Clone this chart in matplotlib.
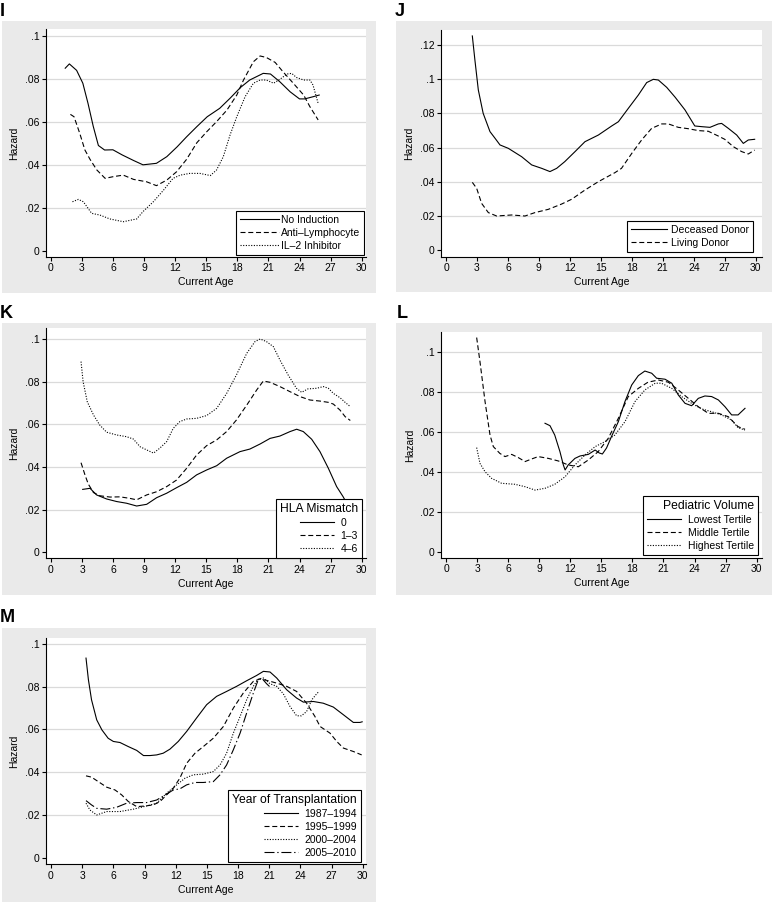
import matplotlib
matplotlib.use('Agg')
import matplotlib.pyplot as plt
from matplotlib.patches import Rectangle

plt.rcParams['font.family'] = ['Liberation Sans', 'DejaVu Sans']

# ------------------------------------------------------------------ data
x_ticks = list(range(0, 31, 3))
y_ticks_01 = [0, 0.02, 0.04, 0.06, 0.08, 0.1]
y_labels_01 = ['0', '.02', '.04', '.06', '.08', '.1']
y_ticks_012 = [0, 0.02, 0.04, 0.06, 0.08, 0.1, 0.12]
y_labels_012 = ['0', '.02', '.04', '.06', '.08', '.1', '.12']

# Panel I : induction
i_labels = ['No Induction', 'Anti\u2013Lymphocyte', 'IL\u20132 Inhibitor']
i_none_age = [1.4, 1.8, 2.5, 3.1, 3.6, 4.1, 4.6, 5.2, 6.0, 6.9, 8.0, 8.9, 10.2, 11.2, 12.2,
              13.1, 14.1, 15.1, 16.3, 17.3, 18.3, 19.2, 20.5, 21.2, 22.1, 23.1, 24.0, 24.5, 25.3, 25.9]
i_none_haz = [0.085, 0.087, 0.084, 0.078, 0.0686, 0.058, 0.049, 0.0469, 0.047, 0.0446, 0.042, 0.040,
              0.0407, 0.0438, 0.0484, 0.053, 0.0578, 0.0624, 0.0663, 0.071, 0.076, 0.0795, 0.0826,
              0.0823, 0.0787, 0.074, 0.0707, 0.0707, 0.0717, 0.0725]
i_anti_age = [1.9, 2.25, 2.8, 3.3, 3.8, 4.45, 5.25, 6.05, 7.0, 8.0, 9.25, 10.2, 11.2, 12.15, 13.1,
              14.1, 15.05, 16.0, 17.0, 17.95, 18.6, 19.55, 20.2, 20.8, 21.65, 22.4, 23.4, 24.4, 25.0, 25.8]
i_anti_haz = [0.0635, 0.0624, 0.0547, 0.0469, 0.0425, 0.0376, 0.0337, 0.0345, 0.0352, 0.0332, 0.0321,
              0.0303, 0.0329, 0.0368, 0.0425, 0.0503, 0.0554, 0.0601, 0.0655, 0.0725, 0.0795, 0.088,
              0.0907, 0.090, 0.0877, 0.0834, 0.078, 0.0725, 0.0671, 0.0609]
i_il2_age = [2.1, 2.67, 3.15, 3.95, 4.75, 5.7, 7.0, 8.3, 8.9, 9.9, 10.9, 11.8, 12.5, 13.4, 14.4, 15.4,
             16.0, 16.65, 17.3, 17.95, 18.75, 19.55, 20.2, 20.8, 21.5, 22.1, 22.8, 23.25, 23.7, 24.4,
             25.0, 25.3, 25.8]
i_il2_haz = [0.0228, 0.0239, 0.0228, 0.0174, 0.0166, 0.0148, 0.0135, 0.0148, 0.0182, 0.0228, 0.0283,
             0.0337, 0.0352, 0.036, 0.036, 0.035, 0.0376, 0.0438, 0.0539, 0.0624, 0.0717, 0.078, 0.0795,
             0.0795, 0.078, 0.0798, 0.0823, 0.0826, 0.0807, 0.0795, 0.0795, 0.0772, 0.0686]

# Panel J : donor type
j_labels = ['Deceased Donor', 'Living Donor']
j_dec_age = [2.55, 2.8, 3.13, 3.6, 4.26, 4.75, 5.23, 6.04, 7.33, 8.3, 9.27, 10.07, 10.72, 11.5, 12.5,
             13.46, 14.76, 16.05, 16.7, 17.66, 18.63, 19.44, 20.08, 20.57, 21.38, 22.2, 23.15, 24.1,
             24.77, 25.57, 26.38, 26.7, 27.35, 28.16, 28.8, 29.28, 29.9]
j_dec_haz = [0.1253, 0.1112, 0.0937, 0.080, 0.0693, 0.0654, 0.0615, 0.0595, 0.0546, 0.0498, 0.0478,
             0.0459, 0.0478, 0.0517, 0.0576, 0.0634, 0.0673, 0.0726, 0.0751, 0.0829, 0.0907, 0.098,
             0.0999, 0.0995, 0.0952, 0.0894, 0.082, 0.0726, 0.0722, 0.0718, 0.0738, 0.0741, 0.0712,
             0.0673, 0.0624, 0.0644, 0.0648]
j_liv_age = [2.55, 2.97, 3.45, 4.1, 4.9, 6.36, 7.65, 8.62, 9.91, 11.2, 12.17, 13.46, 14.76, 16.37, 17.0,
             18.0, 18.95, 19.92, 20.9, 21.54, 22.5, 23.47, 24.44, 25.41, 26.38, 27.0, 27.83, 28.64,
             29.28, 29.9]
j_liv_haz = [0.0396, 0.0361, 0.0273, 0.0219, 0.0199, 0.0205, 0.0199, 0.0219, 0.0238, 0.0269, 0.0297,
             0.0351, 0.040, 0.0453, 0.0478, 0.0566, 0.0644, 0.0712, 0.0738, 0.0738, 0.0718, 0.071,
             0.0699, 0.0695, 0.0667, 0.0648, 0.0605, 0.0576, 0.0562, 0.0585]

# Panel K : HLA mismatch
k_title = 'HLA Mismatch'
k_labels = ['0', '1\u20133', '4\u20136']
k_0_age = [3.06, 3.77, 4.4, 5.37, 6.34, 7.3, 8.27, 9.24, 10.2, 11.17, 12.13, 13.1, 14.06, 15.03, 16.0,
           16.96, 18.25, 19.2, 20.2, 21.15, 22.1, 23.08, 23.72, 24.36, 25.17, 25.97, 26.78, 27.58,
           28.2, 28.9]
k_0_haz = [0.0295, 0.030, 0.0269, 0.025, 0.0238, 0.023, 0.0217, 0.0225, 0.0256, 0.0277, 0.0303,
           0.0328, 0.0363, 0.0386, 0.0406, 0.0441, 0.0472, 0.0484, 0.0508, 0.0534, 0.0545, 0.0566,
           0.0577, 0.0566, 0.053, 0.0472, 0.0394, 0.0308, 0.0261, 0.020]
k_13_age = [2.9, 3.3, 3.6, 4.1, 4.73, 5.7, 6.66, 7.6, 8.27, 9.24, 10.2, 11.17, 12.13, 13.1, 14.06,
            15.03, 16.0, 16.96, 17.9, 18.9, 19.86, 20.5, 21.15, 22.1, 23.08, 24.04, 25.0, 25.97,
            26.78, 27.26, 27.9, 28.4, 28.9]
k_13_haz = [0.042, 0.036, 0.032, 0.028, 0.0265, 0.0259, 0.026, 0.0253, 0.0246, 0.0269, 0.0284,
            0.0308, 0.0339, 0.0394, 0.0456, 0.050, 0.0527, 0.0566, 0.062, 0.069, 0.0761, 0.0803,
            0.0797, 0.0777, 0.0753, 0.073, 0.0714, 0.0709, 0.0703, 0.0695, 0.0667, 0.0636, 0.0618]
k_46_age = [2.9, 3.1, 3.5, 4.1, 4.7, 5.37, 6.34, 7.3, 7.95, 8.6, 9.24, 9.9, 10.5, 11.17, 11.8, 12.45,
            13.1, 14.06, 15.03, 16.0, 16.96, 17.9, 18.9, 19.7, 20.2, 20.8, 21.47, 22.1, 22.9, 23.7,
            24.2, 24.8, 25.65, 26.3, 26.78, 27.26, 27.9, 28.4, 28.9]
k_46_haz = [0.0894, 0.080, 0.0706, 0.0644, 0.0597, 0.0563, 0.055, 0.0542, 0.0531, 0.0495, 0.048,
            0.0465, 0.0488, 0.0519, 0.0581, 0.0613, 0.0625, 0.0628, 0.0641, 0.0675, 0.0745, 0.0831,
            0.0933, 0.0988, 0.100, 0.0988, 0.0964, 0.0902, 0.0831, 0.0769, 0.075, 0.0766, 0.0769,
            0.0777, 0.0769, 0.0745, 0.0725, 0.0703, 0.0683]

# Panel L : pediatric volume
l_title = 'Pediatric Volume'
l_labels = ['Lowest Tertile', 'Middle Tertile', 'Highest Tertile']
l_low_age = [9.56, 10.04, 10.5, 11.0, 11.33, 11.5, 11.8, 12.45, 12.94, 13.74, 14.4, 14.8, 15.1, 15.5,
             16.0, 16.64, 17.28, 17.93, 18.57, 19.2, 19.86, 20.34, 21.15, 21.8, 22.43, 23.08, 23.72,
             24.36, 25.0, 25.65, 26.3, 26.94, 27.58, 28.2, 28.87]
l_low_haz = [0.0644, 0.0632, 0.0585, 0.0502, 0.0435, 0.041, 0.0435, 0.0468, 0.048, 0.0488, 0.051,
             0.0495, 0.049, 0.052, 0.058, 0.0652, 0.0753, 0.0836, 0.0883, 0.0906, 0.0895, 0.087,
             0.0865, 0.0845, 0.0786, 0.0744, 0.0732, 0.0769, 0.0781, 0.0778, 0.0761, 0.0727, 0.0686,
             0.0686, 0.0719]
l_mid_age = [2.96, 3.28, 3.77, 4.25, 4.57, 5.2, 5.7, 6.34, 6.98, 7.63, 8.27, 8.9, 9.88, 10.85, 11.8,
             12.78, 13.74, 14.7, 15.67, 16.64, 17.6, 18.57, 19.5, 20.5, 21.47, 22.43, 23.4, 24.36,
             25.33, 26.3, 27.26, 28.2, 28.87]
l_mid_haz = [0.1074, 0.0953, 0.0753, 0.0585, 0.0527, 0.0493, 0.0477, 0.0488, 0.0472, 0.0452, 0.0465,
             0.0477, 0.0468, 0.0455, 0.0435, 0.0426, 0.046, 0.0502, 0.0569, 0.0669, 0.0778, 0.0819,
             0.085, 0.0861, 0.085, 0.0811, 0.0769, 0.0727, 0.0694, 0.0694, 0.0677, 0.0627, 0.0614]
l_high_age = [2.96, 3.28, 3.77, 4.4, 5.37, 6.66, 7.63, 8.6, 9.56, 10.5, 11.5, 12.45, 13.42, 14.4,
              15.35, 16.3, 17.28, 18.25, 19.2, 20.2, 20.8, 21.8, 22.75, 23.72, 24.7, 25.65, 26.6,
              27.58, 28.2, 28.87]
l_high_haz = [0.0522, 0.0443, 0.0401, 0.0368, 0.0343, 0.0338, 0.0326, 0.0309, 0.0318, 0.0338, 0.0376,
              0.0435, 0.0485, 0.0527, 0.0552, 0.0585, 0.0652, 0.0753, 0.0811, 0.0845, 0.0845, 0.0819,
              0.0778, 0.0744, 0.0716, 0.0702, 0.0686, 0.066, 0.0622, 0.061]

# Panel M : year of transplantation
m_title = 'Year of Transplantation'
m_labels = ['1987\u20131994', '1995\u20131999', '2000\u20132004', '2005\u20132010']
m_87_age = [3.37, 3.6, 3.9, 4.4, 4.9, 5.5, 6.0, 6.64, 7.44, 8.25, 8.9, 9.53, 10.17, 10.8, 11.45,
            12.25, 13.06, 14.0, 14.98, 15.94, 16.9, 17.87, 18.83, 19.8, 20.44, 21.08, 21.72, 22.68,
            23.64, 24.29, 25.25, 26.2, 27.17, 28.14, 29.1, 29.74, 29.95]
m_87_haz = [0.0934, 0.0833, 0.0739, 0.0645, 0.0598, 0.0559, 0.0544, 0.0539, 0.052, 0.0502, 0.0478,
            0.0478, 0.0481, 0.0489, 0.0508, 0.0544, 0.0591, 0.0653, 0.0716, 0.0755, 0.0778, 0.0802,
            0.0828, 0.0853, 0.0872, 0.0869, 0.0841, 0.0786, 0.0747, 0.0728, 0.0731, 0.0723, 0.0705,
            0.0669, 0.0633, 0.0633, 0.0636]
m_95_age = [3.37, 3.9, 4.55, 5.36, 6.16, 6.8, 7.44, 8.25, 9.05, 9.85, 10.5, 11.13, 11.77, 12.4, 13.06,
            13.86, 14.66, 15.62, 16.59, 17.55, 18.5, 19.47, 20.1, 20.75, 21.72, 22.68, 23.64, 24.6,
            25.4, 25.9, 26.85, 27.5, 28.14, 29.1, 29.9]
m_95_haz = [0.0383, 0.0377, 0.0356, 0.033, 0.0317, 0.0294, 0.0263, 0.0239, 0.0242, 0.0247, 0.0263,
            0.0294, 0.0325, 0.0372, 0.0442, 0.0489, 0.052, 0.0559, 0.0614, 0.070, 0.077, 0.0825,
            0.0836, 0.083, 0.0817, 0.0802, 0.0778, 0.0723, 0.0661, 0.0614, 0.0583, 0.0544, 0.0513,
            0.0497, 0.0481]
m_00_age = [3.37, 3.75, 4.4, 5.36, 6.64, 7.92, 9.2, 10.17, 11.13, 12.1, 12.9, 13.7, 14.66, 15.62,
            16.27, 16.9, 17.55, 18.2, 18.83, 19.47, 19.95, 20.44, 21.08, 21.72, 22.36, 23.0, 23.64,
            24.1, 24.6, 25.1, 25.57, 25.8]
m_00_haz = [0.0255, 0.0223, 0.020, 0.0216, 0.0216, 0.0227, 0.0242, 0.0255, 0.0302, 0.0341, 0.0372,
            0.0388, 0.0391, 0.0403, 0.0434, 0.0489, 0.0583, 0.0661, 0.0739, 0.0802, 0.0836, 0.0841,
            0.0814, 0.0802, 0.0767, 0.0708, 0.0664, 0.0664, 0.0684, 0.0739, 0.0767, 0.0778]
m_05_age = [3.37, 3.9, 4.4, 5.36, 6.32, 7.28, 8.25, 9.2, 10.17, 11.13, 11.77, 12.4, 13.06, 13.86,
            14.66, 15.62, 16.27, 16.9, 17.55, 18.2, 18.83, 19.47, 19.95, 20.27, 20.75, 21.1]
m_05_haz = [0.0267, 0.0247, 0.0231, 0.0227, 0.0236, 0.0255, 0.0258, 0.0258, 0.027, 0.0298, 0.0317,
            0.0322, 0.0341, 0.0352, 0.0352, 0.0356, 0.0388, 0.0434, 0.0505, 0.0583, 0.0677, 0.077,
            0.0833, 0.0841, 0.0814, 0.0798]

# ------------------------------------------------------------------ styles
W, H = 772, 902
GREY = '#EAEAEA'
GRID = '#DADADA'
FS = 7.5
SOLID = '-'
DASH = (0, (4.5, 2.5))
DOT = (0, (1.0, 1.4))
DASHDOT = (0, (9, 2.5, 1.2, 2.5))
LW = 0.8

fig = plt.figure(figsize=(W / 100, H / 100), dpi=100)
fig.patch.set_facecolor('white')


def grey_box(x0, y0, x1, y1):
    fig.patches.append(Rectangle((x0 / W, 1 - y1 / H), (x1 - x0) / W, (y1 - y0) / H,
                                 transform=fig.transFigure, facecolor=GREY,
                                 edgecolor='none', zorder=-5))


def panel(letter, letter_xy, grey, box, xref, yref, ytop, yticks, ylabels):
    grey_box(*grey)
    fig.text(letter_xy[0] / W, 1 - letter_xy[1] / H, letter, fontsize=13,
             fontweight='bold', ha='left', va='top')
    l, t, r, b = box
    ax = fig.add_axes([l / W, 1 - b / H, (r - l) / W, (b - t) / H])
    ax.set_zorder(1)
    ax.set_facecolor('white')
    sx = (xref[1] - xref[0]) / 30.0
    ax.set_xlim((l - xref[0]) / sx, (r - xref[0]) / sx)
    sy = (yref[0] - yref[1]) / ytop
    ax.set_ylim((yref[0] - b) / sy, (yref[0] - t) / sy)
    ax.set_xticks(x_ticks)
    ax.set_xticklabels([str(v) for v in x_ticks])
    ax.set_yticks(yticks)
    ax.set_yticklabels(ylabels)
    for v in yticks[1:]:
        ax.axhline(v, color=GRID, lw=0.9, zorder=0.5)
    for s in ('top', 'right'):
        ax.spines[s].set_visible(False)
    for s in ('left', 'bottom'):
        ax.spines[s].set_linewidth(0.8)
    ax.tick_params(direction='out', length=3, width=0.8, labelsize=FS, pad=1.5)
    ax.set_ylabel('Hazard', fontsize=FS, labelpad=4)
    ax.set_xlabel('Current Age', fontsize=FS, labelpad=3)
    return ax


def add_legend(ax, lines, labels, anchor, title=None, hl=3.2, htp=0.2):
    leg = ax.legend(lines, labels, loc='lower right',
                    bbox_to_anchor=(anchor[0] / W, 1 - anchor[1] / H),
                    bbox_transform=fig.transFigure, borderaxespad=0,
                    fontsize=FS, title=title, title_fontsize=8.7,
                    frameon=True, fancybox=False, framealpha=1, edgecolor='black',
                    handlelength=hl, handletextpad=htp, labelspacing=0.28,
                    borderpad=0.4, alignment='right')
    leg.get_frame().set_linewidth(0.8)
    leg.set_zorder(10)
    return leg


def draw(ax, x, y, ls):
    return ax.plot(x, y, color='black', lw=LW, ls=ls, zorder=3)[0]


# Panel I
ax = panel('I', (0, 3), (2, 21, 376, 293), (45.5, 29, 366, 257), (50.7, 361.7), (250.7, 36),
           0.1, y_ticks_01, y_labels_01)
h = [draw(ax, i_none_age, i_none_haz, SOLID),
     draw(ax, i_anti_age, i_anti_haz, DASH),
     draw(ax, i_il2_age, i_il2_haz, DOT)]
add_legend(ax, h, i_labels, (364, 255), hl=3.7, htp=0.15)

# Panel J
ax = panel('J', (395, 3), (396, 21, 772, 292), (441, 30, 762, 257), (446, 755.7), (250, 45),
           0.12, y_ticks_012, y_labels_012)
h = [draw(ax, j_dec_age, j_dec_haz, SOLID),
     draw(ax, j_liv_age, j_liv_haz, DASH)]
add_legend(ax, h, j_labels, (753, 252), hl=3.4, htp=0.4)

# Panel K
ax = panel('K', (0, 305), (2, 323, 376, 595), (45.5, 328, 366, 558.3), (51, 361.7), (552.3, 339),
           0.1, y_ticks_01, y_labels_01)
h = [draw(ax, k_0_age, k_0_haz, SOLID),
     draw(ax, k_13_age, k_13_haz, DASH),
     draw(ax, k_46_age, k_46_haz, DOT)]
add_legend(ax, h, k_labels, (362, 558), title=k_title, hl=3.3, htp=0.6)

# Panel L
ax = panel('L', (397, 305), (396, 323, 772, 595), (441, 332, 762, 557.7), (446, 756.7),
           (551.7, 352.3), 0.1, y_ticks_01, y_labels_01)
h = [draw(ax, l_low_age, l_low_haz, SOLID),
     draw(ax, l_mid_age, l_mid_haz, DASH),
     draw(ax, l_high_age, l_high_haz, DOT)]
add_legend(ax, h, l_labels, (758, 555), title=l_title, hl=3.3, htp=0.6)

# Panel M
ax = panel('M', (0, 609), (2, 628, 376, 902), (45.5, 638, 366, 864.3), (51, 362.7), (857.7, 644),
           0.1, y_ticks_01, y_labels_01)
h = [draw(ax, m_87_age, m_87_haz, SOLID),
     draw(ax, m_95_age, m_95_haz, DASH),
     draw(ax, m_00_age, m_00_haz, DOT),
     draw(ax, m_05_age, m_05_haz, DASHDOT)]
add_legend(ax, h, m_labels, (361, 862), title=m_title, hl=3.3, htp=0.6)

fig.savefig('out.png', dpi=100, facecolor='white')
